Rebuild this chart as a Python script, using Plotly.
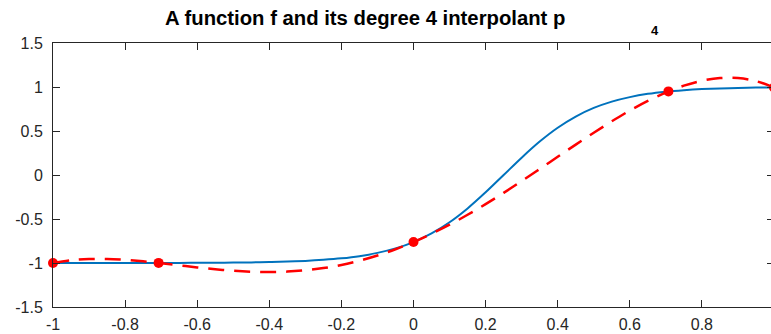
import plotly.graph_objects as go

# ---- data ----
x_grid = [round(-1 + 0.05 * i, 2) for i in range(41)]
f_vals = [-1.000, -1.000, -1.000, -1.000, -1.000, -0.999, -0.999, -0.999, -0.998, -0.997,
          -0.995, -0.993, -0.989, -0.984, -0.976, -0.964, -0.947, -0.922, -0.885, -0.834,
          -0.762, -0.664, -0.537, -0.380, -0.197, 0.000, 0.197, 0.380, 0.537, 0.664,
          0.762, 0.834, 0.885, 0.922, 0.947, 0.964, 0.976, 0.984, 0.989, 0.993, 0.995]
p_vals = [-1.000, -0.969, -0.955, -0.954, -0.964, -0.981, -1.002, -1.026, -1.050, -1.071,
          -1.088, -1.099, -1.103, -1.098, -1.083, -1.058, -1.022, -0.974, -0.915, -0.844,
          -0.762, -0.668, -0.565, -0.452, -0.331, -0.203, -0.069, 0.068, 0.207, 0.345,
          0.480, 0.610, 0.732, 0.842, 0.937, 1.015, 1.071, 1.101, 1.101, 1.067, 0.995]
node_x = [-1.0, -0.7071, 0.0, 0.7071, 1.0]
node_y = [-1.000, -0.999, -0.762, 0.950, 0.995]

x_ticks = [-1, -0.8, -0.6, -0.4, -0.2, 0, 0.2, 0.4, 0.6, 0.8, 1]
x_labels = ["-1", "-0.8", "-0.6", "-0.4", "-0.2", "0", "0.2", "0.4", "0.6", "0.8", "1"]
y_ticks = [-1.5, -1, -0.5, 0, 0.5, 1, 1.5]
y_labels = ["-1.5", "-1", "-0.5", "0", "0.5", "1", "1.5"]

title_main = "A function f and its degree 4 interpolant p"
title_sub = "4"

AX = "#262626"
FONT = "Liberation Sans, Arial, Helvetica, sans-serif"

fig = go.Figure()
fig.add_trace(go.Scatter(x=x_grid, y=f_vals, mode="lines",
                         line=dict(color="#0072BD", width=2, shape="spline"),
                         showlegend=False, hoverinfo="skip"))
fig.add_trace(go.Scatter(x=x_grid, y=p_vals, mode="lines",
                         line=dict(color="#FF0000", width=2.5, dash="16px,10px", shape="spline"),
                         showlegend=False, hoverinfo="skip"))
fig.add_trace(go.Scatter(x=node_x, y=node_y, mode="markers",
                         marker=dict(color="#FF0000", size=10),
                         showlegend=False, hoverinfo="skip", cliponaxis=False))

fig.update_layout(
    width=774, height=334,
    margin=dict(l=53, r=0, t=43, b=27),
    paper_bgcolor="white", plot_bgcolor="white",
    font=dict(family=FONT, size=16, color=AX),
    xaxis=dict(range=[-1, 1], tickvals=x_ticks, ticktext=x_labels,
               showline=True, linecolor=AX, linewidth=1, mirror="ticks",
               ticks="inside", ticklen=7, tickcolor=AX, tickwidth=1,
               showgrid=False, zeroline=False, tickfont=dict(size=16, color=AX),
               ticklabelstandoff=3),
    yaxis=dict(range=[-1.5, 1.5], tickvals=y_ticks, ticktext=y_labels,
               showline=True, linecolor=AX, linewidth=1, mirror="ticks",
               ticks="inside", ticklen=7, tickcolor=AX, tickwidth=1,
               showgrid=False, zeroline=False, tickfont=dict(size=16, color=AX),
               ticklabelstandoff=6),
    annotations=[
        dict(text="<b>" + title_main + "</b>", xref="paper", yref="paper",
             x=0.4327, y=1.093, xanchor="center", yanchor="middle", showarrow=False,
             font=dict(family=FONT, size=20.3, color="black")),
        dict(text="<b>" + title_sub + "</b>", xref="paper", yref="paper",
             x=0.835, y=1.049, xanchor="center", yanchor="middle", showarrow=False,
             font=dict(family=FONT, size=13, color="black")),
    ],
)

fig.write_html("out.html", post_script="document.body.style.overflow='hidden';document.documentElement.style.overflow='hidden';")
